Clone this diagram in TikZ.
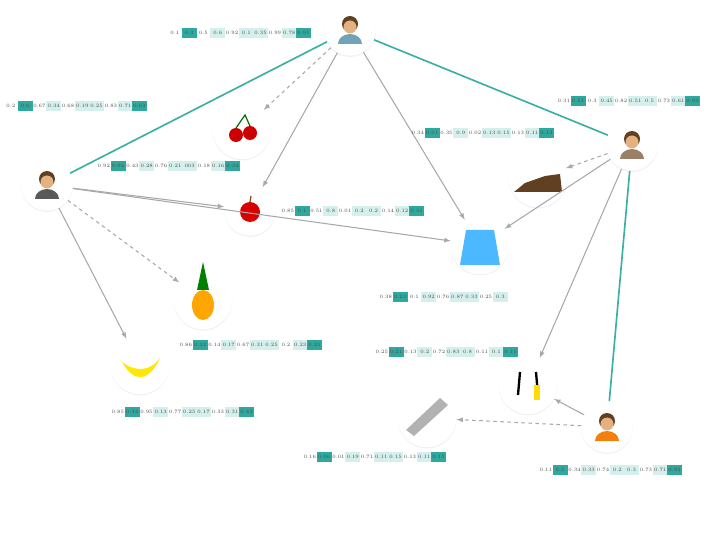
\documentclass[tikz,border=0pt]{standalone}
\usepackage{tikz}
\usetikzlibrary{shadows,calc}
\definecolor{tealD}{HTML}{2FA89E}
\definecolor{tealL}{HTML}{D4EFEC}
\definecolor{edgeT}{HTML}{3AAFA4}
\definecolor{arrG}{HTML}{A8A8A8}
\tikzset{
  pic/.style={circle,fill=white,minimum size=#1,drop shadow={opacity=0.12,shadow xshift=0pt,shadow yshift=-1pt}},
  social/.style={edgeT,line width=1.4pt},
  link/.style={arrG,line width=0.9pt,->,>=latex},
  guess/.style={link,dashed},
  cell/.style={inner sep=0pt,minimum width=13pt,minimum height=8pt,font=\fontsize{4.3}{5}\selectfont,text=black!70},
  c1/.style={}, c2/.style={fill=tealD}, c3/.style={}, c4/.style={fill=tealL},
  c5/.style={}, c6/.style={fill=tealL}, c7/.style={fill=tealL}, c8/.style={},
  c9/.style={fill=tealL}, c10/.style={fill=tealD}
}
% one row of scores
\newcommand{\scorerow}[3]{%
  \foreach \v [count=\i] in {#3}
    \node[cell,c\i,anchor=west] at (#1+\i*14.3-14.3,#2) {\v};}
% person icon
\newcommand{\person}[2]{%
  \fill[#2] ($(#1)+(-12,14)$) arc (180:360:12 and 10) -- cycle;
  \fill[brown!50!black] ($(#1)+(0,-6)$) circle (8);
  \fill[orange!30!brown!60] ($(#1)+(0,-3)$) circle (6.5);}
\begin{document}
\begin{tikzpicture}[x=0.03cm,y=-0.03cm]
\useasboundingbox (0,0) rectangle (725,540);
% nodes
\node[pic=44pt] (wtop) at (350,30) {};
\node[pic=44pt] (mleft) at (47,185) {};
\node[pic=44pt] (mright) at (632,145) {};
\node[pic=44pt] (wbot) at (607,427) {};
\node[pic=50pt] (cherry) at (242,130) {};
\node[pic=44pt] (apple) at (250,210) {};
\node[pic=50pt] (pine) at (203,300) {};
\node[pic=50pt] (banana) at (140,365) {};
\node[pic=50pt] (shirt) at (480,245) {};
\node[pic=50pt] (shoes) at (538,178) {};
\node[pic=50pt] (tools) at (528,385) {};
\node[pic=50pt] (saw) at (427,418) {};
% icons
\person{wtop}{cyan!40!gray}
\person{mleft}{gray!70!black}
\person{mright}{brown!40!gray}
\person{wbot}{orange!80!brown}
\fill[red!80!black] (236,135) circle (7) (250,133) circle (7);
\draw[green!40!black,line width=1pt] (236,128) -- (245,115) -- (250,126);
\fill[red!85!black] (250,212) circle (10);
\draw[brown!60!black,line width=1pt] (250,202) -- (251,196);
\fill[orange!70!yellow] (203,305) ellipse (11 and 15);
\fill[green!50!black] (197,290) -- (203,262) -- (209,290) -- cycle;
\fill[yellow!90!orange] (122,362) .. controls (135,385) and (150,380) .. (160,358) .. controls (150,372) and (135,372) .. (122,362);
\fill[blue!40!cyan!70!white] (466,230) -- (494,230) -- (500,265) -- (460,265) -- cycle;
\fill[brown!50!black] (514,192) -- (562,192) -- (560,174) -- (545,176) -- (525,183) -- cycle;
\draw[black,line width=2pt] (518,395) -- (520,372) (538,395) -- (536,372);
\fill[yellow!80!orange] (534,385) rectangle (540,400);
\fill[gray!60] (406,430) -- (440,398) -- (448,405) -- (414,436) -- cycle;
% connectors
\draw[social] (wtop) -- (mleft);
\draw[social] (wtop) -- (mright);
\draw[social] (mright) -- (wbot);
\draw[guess] (wtop) -- (cherry);
\draw[link] (wtop) -- (apple);
\draw[link] (wtop) -- (shirt);
\draw[link] (mleft) -- (apple);
\draw[link] (mleft) -- (shirt);
\draw[link] (mleft) -- (banana);
\draw[guess] (mleft) -- (pine);
\draw[guess] (mright) -- (shoes);
\draw[link] (mright) -- (shirt);
\draw[link] (mright) -- (tools);
\draw[link] (wbot) -- (tools);
\draw[guess] (wbot) -- (saw);
% score rows
\scorerow{167}{33}{0.1,0.3,0.5,0.6,0.92,0.1,0.35,0.99,0.78,0.91}
\scorerow{3}{106}{0.2,0.6,0.67,0.34,0.68,0.19,0.25,0.83,0.71,0.63}
\scorerow{96}{166}{0.92,0.94,0.43,0.28,0.76,0.21,003,0.18,0.16,0.34}
\scorerow{280}{211}{0.85,0.1,0.51,0.8,0.01,0.2,0.2,0.14,0.12,0.31}
\scorerow{556}{101}{0.31,0.51,0.3,0.45,0.82,0.51,0.5,0.73,0.61,0.93}
\scorerow{410}{133}{0.34,0.01,0.35,0.9,0.02,0.13,0.15,0.13,0.11,0.13}
\scorerow{378}{297}{0.38,0.23,0.1,0.92,0.76,0.87,0.33,0.25,0.3}
\scorerow{178}{345}{0.86,0.32,0.14,0.17,0.67,0.31,0.25,0.2,0.23,0.21}
\scorerow{374}{352}{0.25,0.21,0.13,0.2,0.72,0.83,0.8,0.11,0.1,0.11}
\scorerow{110}{412}{0.85,0.34,0.95,0.13,0.77,0.25,0.17,0.33,0.31,0.43}
\scorerow{302}{457}{0.16,0.06,0.01,0.19,0.71,0.11,0.15,0.13,0.11,0.15}
\scorerow{538}{470}{0.11,0.5,0.34,0.33,0.74,0.2,0.3,0.73,0.71,0.93}
\end{tikzpicture}
\end{document}
